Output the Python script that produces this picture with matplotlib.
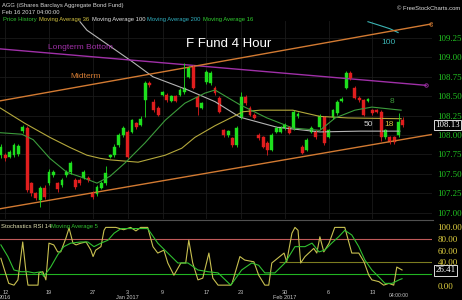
import matplotlib
matplotlib.use("Agg")
import matplotlib.pyplot as plt

# 4-hour candles, index 0 = first bar on the left
opens = [107.74, 107.74, 107.72, 107.74, 107.75, 108.05, 108.09, 107.38, 107.25, 107.16,
         107.32, 107.38, 107.48, 107.38, 107.36, 107.48, 107.52, 107.42, 107.42, 107.45,
         107.45, 107.25, 107.24, 107.32, 107.38, 107.72, 107.74, 107.87, 108.00, 108.04,
         108.04, 108.15, 108.13, 108.45, 108.67, 108.43, 108.35, 108.52, 108.52, 108.44,
         108.50, 108.52, 108.55, 108.75, 108.88, 108.49, 108.35, 108.68, 108.67, 108.61,
         108.48, 108.06, 108.00, 107.96, 107.87, 108.23, 108.49, 108.35, 108.26, 108.00,
         107.97, 107.90, 107.81, 108.04, 108.04, 108.09, 108.10, 108.09, 108.24, 107.85,
         107.81, 108.04, 108.04, 108.10, 108.23, 107.98, 108.23, 108.28, 108.44, 108.61,
         108.80, 108.61, 108.48, 108.45, 108.44, 108.32, 108.32, 108.30, 107.97, 107.97,
         107.97, 108.00, 108.19]
closes = [107.85, 107.70, 107.78, 107.87, 107.86, 108.10, 107.29, 107.25, 107.19, 107.32,
          107.20, 107.52, 107.52, 107.30, 107.42, 107.52, 107.64, 107.33, 107.38, 107.52,
          107.42, 107.20, 107.33, 107.38, 107.51, 107.74, 107.85, 108.00, 108.09, 107.72,
          108.19, 108.10, 108.21, 108.67, 108.64, 108.32, 108.26, 108.55, 108.45, 108.50,
          108.44, 108.58, 108.61, 108.86, 108.61, 108.36, 108.41, 108.81, 108.80, 108.54,
          108.30, 108.00, 108.05, 107.87, 108.09, 108.49, 108.41, 108.26, 108.22, 107.96,
          107.85, 107.81, 108.00, 108.09, 108.10, 108.13, 108.03, 108.30, 108.27, 107.77,
          107.94, 108.09, 107.97, 108.24, 107.90, 108.06, 108.32, 108.43, 108.46, 108.80,
          108.73, 108.48, 108.45, 108.26, 108.46, 108.28, 108.30, 107.97, 108.06, 107.91,
          107.91, 108.17, 108.13]
highs = [107.88, 107.77, 107.81, 107.90, 107.89, 108.13, 108.12, 107.40, 107.27, 107.34,
         107.35, 107.56, 107.55, 107.40, 107.45, 107.55, 107.67, 107.45, 107.45, 107.55,
         107.47, 107.28, 107.35, 107.41, 107.60, 107.76, 107.88, 108.02, 108.11, 108.06,
         108.21, 108.17, 108.24, 108.69, 108.70, 108.46, 108.37, 108.57, 108.54, 108.52,
         108.52, 108.60, 108.93, 108.89, 108.90, 108.51, 108.43, 108.84, 108.83, 108.63,
         108.50, 108.08, 108.07, 107.98, 108.11, 108.56, 108.51, 108.37, 108.28, 108.02,
         107.99, 107.92, 108.02, 108.11, 108.12, 108.15, 108.12, 108.32, 108.30, 107.87,
         107.96, 108.11, 108.06, 108.27, 108.25, 108.08, 108.34, 108.45, 108.49, 108.82,
         108.82, 108.63, 108.50, 108.47, 108.48, 108.34, 108.34, 108.32, 108.08, 107.99,
         107.99, 108.28, 108.23]
lows = [107.70, 107.66, 107.70, 107.72, 107.73, 108.03, 107.27, 107.22, 107.16, 107.07,
        107.17, 107.36, 107.46, 107.27, 107.33, 107.46, 107.50, 107.30, 107.35, 107.43,
        107.39, 107.17, 107.21, 107.30, 107.36, 107.70, 107.72, 107.85, 107.98, 107.70,
        108.02, 108.08, 108.11, 108.23, 108.62, 108.30, 108.24, 108.50, 108.43, 108.42,
        108.42, 108.50, 108.53, 108.73, 108.59, 108.26, 108.33, 108.66, 108.65, 108.52,
        108.28, 107.98, 107.98, 107.84, 107.85, 108.21, 108.39, 108.24, 108.20, 107.94,
        107.83, 107.74, 107.79, 108.02, 108.02, 108.07, 108.01, 108.07, 108.22, 107.75,
        107.79, 108.02, 107.95, 108.08, 107.87, 107.96, 108.21, 108.26, 108.42, 108.59,
        108.71, 108.46, 108.43, 108.24, 108.42, 108.26, 108.28, 107.92, 107.95, 107.88,
        107.88, 107.98, 108.10]

# moving averages (bar index, price)
ma16_idx = [-0.2, 4.8, 7.4, 11.2, 15.1, 18.8, 22.0, 25.0, 28.4, 33.0, 37.6, 42.1, 46.7,
            49.0, 54.7, 60.9, 66.8, 73.0, 76.5, 81.0, 84.9, 91.6]
ma16_val = [108.03, 108.01, 107.94, 107.70, 107.52, 107.45, 107.38, 107.47, 107.64, 107.90,
            108.19, 108.41, 108.54, 108.58, 108.39, 108.22, 108.09, 108.06, 108.22, 108.32,
            108.36, 108.32]
ma36_idx = [-0.2, 5.5, 11.2, 15.8, 19.7, 22.7, 25.0, 31.4, 37.6, 41.4, 44.4, 49.0, 55.4,
            59.3, 66.8, 73.0, 79.4, 91.6]
ma36_val = [108.35, 108.15, 107.97, 107.84, 107.74, 107.70, 107.68, 107.65, 107.74, 107.83,
            107.97, 108.12, 108.30, 108.32, 108.32, 108.24, 108.22, 108.21]
ma100_idx = [18.1, 19.7, 30.2, 34.8, 42.8, 49.0, 54.7, 63.2, 73.0, 82.2, 91.3]
ma100_val = [109.46, 109.35, 108.94, 108.75, 108.58, 108.43, 108.23, 108.10, 108.04, 108.05, 108.05]
ma200_idx = [84.0, 86.8, 89.0, 90.9]
ma200_val = [109.46, 109.41, 109.37, 109.32]

# hand drawn trend lines (bar index, price)
longterm_idx = [-0.2, 97.3]
longterm_val = [109.11, 108.64]
midterm_idx = [-0.2, 98.4]
midterm_val = [108.44, 109.43]
support_idx = [-0.2, 98.9]
support_val = [107.05, 108.01]

# stochastic RSI 14 and its 5 period average
stoch_idx = [0.0, 0.7, 1.8, 3.0, 3.9, 5.0, 5.7, 6.2, 8.5, 8.7, 9.6, 10.3, 11.0, 12.1, 13.0,
             13.7, 14.9, 15.6, 16.5, 17.2, 18.3, 19.5, 20.6, 21.1, 21.7, 22.9, 23.6, 24.0,
             26.3, 28.1, 29.7, 30.9, 32.0, 33.6, 34.8, 35.9, 37.3, 38.2, 39.6, 41.2, 42.3,
             43.0, 43.9, 45.1, 46.2, 47.6, 48.5, 49.7, 50.8, 52.6, 52.9, 54.7, 55.8, 57.9,
             59.0, 60.4, 61.3, 62.0, 64.8, 65.4, 66.6, 67.3, 68.0, 68.6, 69.6, 71.6, 72.3,
             73.0, 73.9, 75.1, 76.4, 78.7, 80.3, 81.9, 83.1, 84.2, 84.9, 86.5, 87.6, 88.8,
             89.9, 90.6, 91.8]
stoch_val = [47, 30, 4, 1, 10, 75, 27, 1, 1, 22, 24, 10, 73, 70, 58, 58, 82, 99, 73, 70,
             73, 75, 61, 50, 61, 67, 95, 100, 100, 96, 100, 94, 100, 100, 67, 56, 61, 39, 18,
             39, 39, 78, 39, 10, 13, 56, 13, 1, 1, 1, 4, 50, 44, 41, 18, 1, 1, 39, 56, 41,
             90, 100, 95, 39, 50, 64, 56, 84, 58, 73, 100, 100, 56, 56, 41, 18, 10, 7, 1, 4,
             1, 32, 27]
smooth_idx = [0.0, 1.6, 3.0, 4.6, 6.2, 7.6, 9.2, 9.8, 11.4, 13.0, 14.4, 16.0, 18.3, 19.9,
              21.3, 22.9, 24.5, 25.9, 27.5, 33.6, 35.9, 38.2, 40.5, 42.8, 45.1, 47.4, 49.7,
              52.6, 52.9, 55.1, 57.4, 59.0, 60.4, 62.7, 65.0, 67.3, 69.6, 71.2, 72.8, 74.1,
              75.7, 77.3, 78.7, 80.3, 81.9, 83.3, 84.9, 86.5, 87.9, 89.5, 91.1, 91.8]
smooth_val = [70, 50, 27, 24, 24, 22, 24, 16, 32, 53, 67, 73, 75, 75, 67, 73, 78, 90, 98,
              98, 73, 56, 39, 39, 27, 24, 22, 1, 4, 27, 39, 35, 22, 22, 39, 67, 67, 73, 58,
              61, 73, 84, 95, 87, 67, 44, 27, 15, 4, 4, 10, 12]

tick_idx = [1, 11, 21, 29, 37, 47, 55, 65, 75, 85]
tick_lab = ["12\n2016", "19", "27", "3\nJan 2017", "9", "17", "23", "30\nFeb 2017", "6", "13"]
price_ticks = [107.00, 107.25, 107.50, 107.75, 108.00, 108.25, 108.50, 108.75, 109.00, 109.25]
stoch_ticks = [0, 40, 60, 80, 100]

UP = "#1ee01e"
DOWN = "#e01e1e"
small = "Liberation Sans"
serif = "Liberation Serif"

fig = plt.figure(figsize=(4.62, 3.0), dpi=100, facecolor="black")
ax = fig.add_axes([0, 0.27, 0.935, 0.66])
ax2 = fig.add_axes([0, 0.04, 0.935, 0.223], sharex=ax)

for a in (ax, ax2):
    a.set_facecolor("black")
    for s in a.spines.values():
        s.set_visible(False)
    a.yaxis.tick_right()
    a.grid(True, color="#1a1a1a", linewidth=0.6)
    a.set_axisbelow(True)

# price panel
ax.set_xlim(-0.2, 98.65)
ax.set_ylim(106.918, 109.469)
ax.set_yticks(price_ticks)
ax.set_yticklabels([f"{p:.2f}" for p in price_ticks], color="#22c822",
                   fontsize=6.3, family=serif)
ax.tick_params(axis="y", length=0, pad=4)
ax.tick_params(axis="x", length=0, labelbottom=False)
ax.set_xticks(tick_idx)

ax.plot(ma200_idx, ma200_val, color="#3cb4b4", lw=0.8)
ax.plot(ma100_idx, ma100_val, color="#b4b4b4", lw=0.8)
ax.plot(ma36_idx, ma36_val, color="#b4a83c", lw=0.8)
ax.plot(ma16_idx, ma16_val, color="#3c9c3c", lw=0.8)
ax.plot(longterm_idx, longterm_val, color="#a030a8", lw=1.0)
ax.plot(longterm_idx[-1:], longterm_val[-1:], "o", ms=2.5, mfc="none", mec="#a030a8", mew=0.6)
ax.plot(midterm_idx, midterm_val, color="#d27a32", lw=1.0)
ax.plot(midterm_idx[-1:], midterm_val[-1:], "o", ms=2.5, mfc="none", mec="#d27a32", mew=0.6)
ax.plot(support_idx, support_val, color="#d27a32", lw=1.0)

for i in range(len(opens)):
    col = UP if closes[i] >= opens[i] else DOWN
    ax.vlines(i, lows[i], highs[i], color=col, lw=0.6)
    lo = min(opens[i], closes[i])
    h = max(abs(closes[i] - opens[i]), 0.012)
    ax.bar(i, h, bottom=lo, width=0.66, color=col, edgecolor=col, linewidth=0.3)

ax.text(52.2, 109.17, "F Fund 4 Hour", color="white", fontsize=9.5, family=small,
        ha="center", va="center")
ax.text(18.3, 109.13, "Longterm Bottom", color="#a030a8", fontsize=6, family=small,
        ha="center", va="center")
ax.text(19.5, 108.75, "Midterm", color="#d27a32", fontsize=6, family=small,
        ha="center", va="center")
ax.text(88.8, 109.19, "100", color="#3cb4b4", fontsize=6, family=small, ha="center", va="center")
ax.text(89.5, 108.43, "8", color="#3c9c3c", fontsize=6, family=small, ha="center", va="center")
ax.text(84.0, 108.14, "50", color="#d0d0d0", fontsize=6, family=small, ha="center", va="center")
ax.text(88.8, 108.14, "18", color="#d4c040", fontsize=6, family=small, ha="center", va="center")
ax.text(1.008, 108.13, f"{closes[-1]:.2f}", transform=ax.get_yaxis_transform(),
        color="white", fontsize=6.3, family=serif, va="center", ha="left",
        bbox=dict(boxstyle="square,pad=0.15", fc="black", ec="white", lw=0.6))

# stochastic panel
ax2.set_ylim(-3.9, 110.8)
ax2.set_yticks(stoch_ticks)
ax2.set_yticklabels([f"{v:.2f}" for v in stoch_ticks], color="#e0d040",
                    fontsize=6.5, family=serif)
ax2.tick_params(axis="y", length=0, pad=4)
ax2.set_xticks(tick_idx)
ax2.set_xticklabels(tick_lab, color="#c8c8c8", fontsize=4, family=small, linespacing=1.0)
ax2.tick_params(axis="x", length=0, pad=1.5)
ax2.grid(False)
ax2.axhline(80, color="#c05a5a", lw=0.8)
ax2.axhline(20, color="#22b422", lw=0.8)
ax2.hlines(40, 63.7, 98.65, color="#7c7c20", lw=0.8)
ax2.plot(stoch_idx, stoch_val, color="#c8c050", lw=0.8)
ax2.plot(smooth_idx, smooth_val, color="#30c030", lw=0.8)
ax2.text(1.008, 26.41, "26.41", transform=ax2.get_yaxis_transform(),
         color="white", fontsize=6.5, family=serif, va="center", ha="left",
         bbox=dict(boxstyle="square,pad=0.15", fc="black", ec="white", lw=0.6))
ax2.text(91.1, -16, "04:00:00", color="#c8c8c8", fontsize=3.6, family=small,
         ha="center", va="center", clip_on=False)
ax2.text(0.003, 0.92, "Stochastics RSI 14", transform=ax2.transAxes, color="#e4e4b4",
         fontsize=4.2, family=small, va="center")
ax2.text(0.118, 0.92, "Moving Average 5", transform=ax2.transAxes, color="#30c030",
         fontsize=4.2, family=small, va="center")

# panel separator
fig.add_artist(plt.Line2D([0, 0.938], [1 - 219.5 / 300] * 2, color="#505050", lw=0.8))

# header
fig.text(2 / 462, 1 - 5 / 300, "AGG (iShares Barclays Aggregate Bond Fund)", color="#d8d8d8",
         fontsize=4.2, family=small, va="center")
fig.text(2 / 462, 1 - 12 / 300, "Feb 16 2017 04:00:00", color="#d8d8d8",
         fontsize=4.2, family=small, va="center")
legend_items = [("Price History", "#30c030", 3), ("Moving Average 36", "#d0c040", 39),
                ("Moving Average 100", "#e0e0e0", 92), ("Moving Average 200", "#30b0c0", 147),
                ("Moving Average 16", "#30d030", 203)]
for name, col, x in legend_items:
    fig.text(x / 462, 1 - 19.5 / 300, name, color=col, fontsize=4.2, family=small, va="center")
fig.text(460 / 462, 1 - 8 / 300, "\u00a9 FreeStockCharts.com", color="#e0e0e0",
         fontsize=4.2, family=small, va="center", ha="right")

fig.savefig("out.png", dpi=100, facecolor="black")
